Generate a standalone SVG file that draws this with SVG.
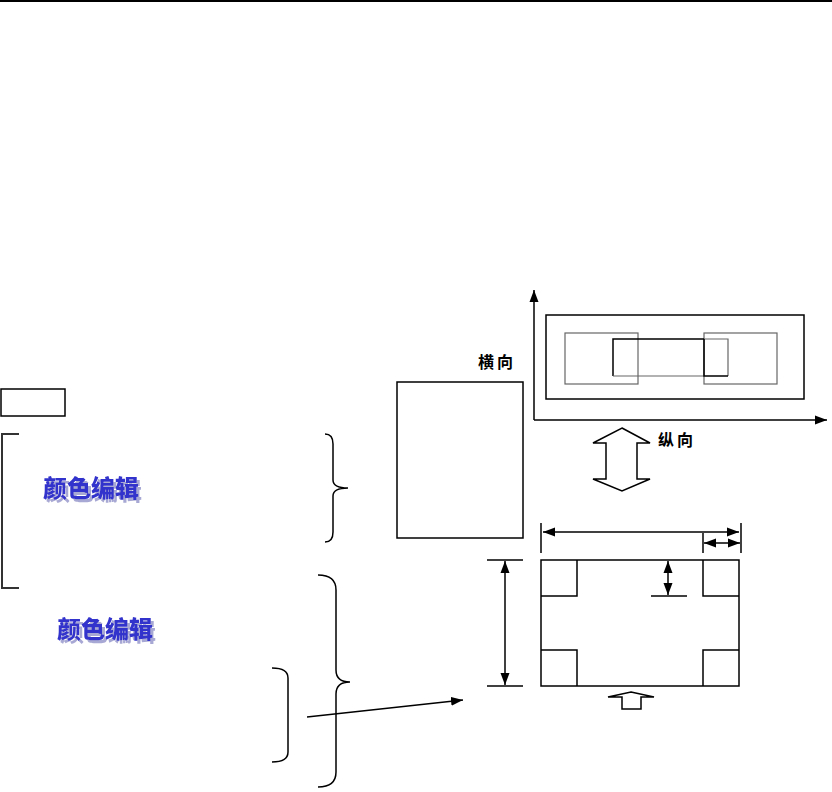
<svg xmlns="http://www.w3.org/2000/svg" width="832" height="792" viewBox="0 0 832 792">
<defs>
<marker id="ah" viewBox="0 0 12 10" refX="12" refY="5" markerWidth="12" markerHeight="10" markerUnits="userSpaceOnUse" orient="auto-start-reverse">
<path d="M0,0.5 L12,5 L0,9.5 Z" fill="#000"/>
</marker>
<filter id="shadow" x="-10%" y="-20%" width="130%" height="160%">
<feOffset in="SourceAlpha" dx="3" dy="3" result="off"/>
<feFlood flood-color="#a8a8d4"/>
<feComposite in2="off" operator="in" result="sh"/>
<feMerge><feMergeNode in="sh"/><feMergeNode in="SourceGraphic"/></feMerge>
</filter>
</defs>
<style>
.s{fill:none;stroke:#000;stroke-width:1.5}
.g{fill:none;stroke:#666;stroke-width:1.2}
.br{fill:none;stroke:#000;stroke-width:1.5}
.ce{font-family:"Noto Sans CJK SC","Noto Sans CJK TC",sans-serif;font-weight:900;font-size:24px;fill:#3333cc;filter:url(#shadow)}
.lab{font-family:"Noto Sans CJK SC",sans-serif;font-weight:bold;font-size:16px;letter-spacing:3px;fill:#000}
</style>
<rect width="832" height="792" fill="#fff"/>
<line x1="0" y1="1" x2="832" y2="1" stroke="#000" stroke-width="2"/>

<g id="smallbox"><rect x="1" y="389" width="64" height="27" class="s"/></g>
<g id="leftbracket"><path d="M19,434 H2 V588 H19" fill="none" stroke="#333" stroke-width="2"/></g>

<g id="text1"><text x="43" y="497" class="ce">颜色编辑</text></g>
<g id="text2"><text x="57" y="638" class="ce">颜色编辑</text></g>

<g id="braces">
<path class="br" d="M325,434 Q333,434 333,444 V480 Q333,488 348,488 Q333,488 333,496 V532 Q333,542 325,542"/>
<path class="br" d="M318,575 Q336,575 336,590 V670 Q336,682 350,682 Q336,682 336,694 V772 Q336,787 318,787"/>
<path class="br" d="M272,668 Q288,668 288,678 V752 Q288,762 272,762"/>
</g>

<g id="tallrect"><rect x="397" y="382" width="126" height="156" class="s"/></g>
<g id="label-h"><text x="478" y="368" class="lab">横向</text></g>
<g id="label-v"><text x="658" y="446" class="lab">纵向</text></g>

<g id="chart">
<rect x="546" y="315" width="258" height="84" class="s"/>
<rect x="565" y="333" width="73" height="51" class="g"/>
<rect x="704" y="333" width="73" height="51" class="g"/>
<path class="s" d="M704,339 H613 V376"/>
<path class="g" d="M613,376 H704"/>
<path class="g" d="M704,339 H728 V376"/>
<path class="s" d="M704,339 V376 H728"/>
</g>

<g id="bigrect">
<rect x="541" y="560" width="198" height="126" class="s" stroke-width="2"/>
<path class="s" d="M541,596 H577 V560 M703,560 V596 H739 M541,650 H577 V686 M739,650 H703 V686"/>
</g>

<g id="hollow-double"><path d="M622,428 L650,443 H637 V479 H650 L622,491 L593,479 H606 V443 H593 Z" fill="#fff" stroke="#000" stroke-width="1.5"/></g>
<g id="hollow-up"><path d="M631,692 L654,697 H641 V709 H622 V697 H608 Z" fill="#fff" stroke="#000" stroke-width="1.5"/></g>

<g id="connectors">
<line x1="534" y1="420" x2="534" y2="290" class="s" marker-end="url(#ah)"/>
<line x1="534" y1="420" x2="827" y2="420" class="s" marker-end="url(#ah)"/>
<line x1="541" y1="523" x2="541" y2="553" class="s"/>
<line x1="741" y1="523" x2="741" y2="553" class="s"/>
<line x1="543" y1="532" x2="739" y2="532" class="s" marker-start="url(#ah)" marker-end="url(#ah)"/>
<line x1="703" y1="533" x2="703" y2="553" class="s"/>
<line x1="704" y1="543" x2="740" y2="543" class="s" marker-start="url(#ah)" marker-end="url(#ah)"/>
<line x1="487" y1="560" x2="523" y2="560" class="s"/>
<line x1="487" y1="686" x2="523" y2="686" class="s"/>
<line x1="505" y1="561" x2="505" y2="685" class="s" marker-start="url(#ah)" marker-end="url(#ah)"/>
<line x1="651" y1="596" x2="687" y2="596" class="s"/>
<line x1="668" y1="561" x2="668" y2="595" class="s" marker-start="url(#ah)" marker-end="url(#ah)"/>
<line x1="307" y1="717" x2="463" y2="700" class="s" marker-end="url(#ah)"/>
</g>
</svg>
